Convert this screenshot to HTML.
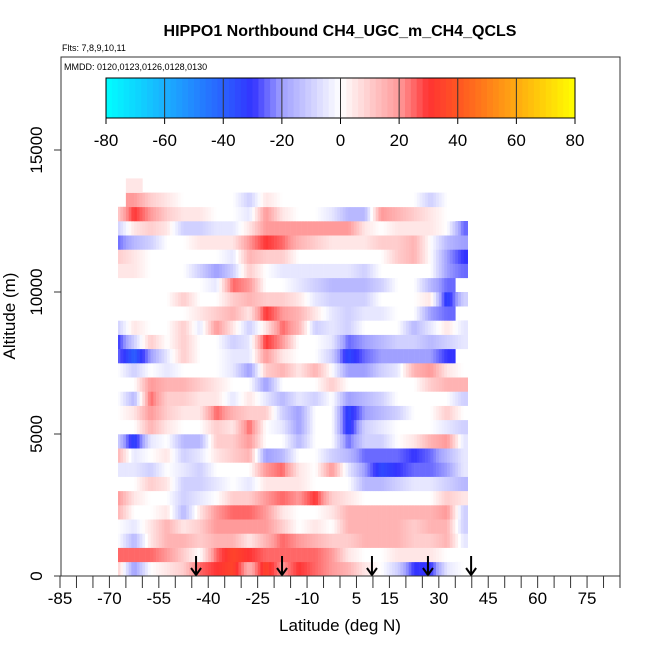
<!DOCTYPE html>
<html><head><meta charset="utf-8"><style>
html,body{margin:0;padding:0;background:#fff;}
svg{display:block;font-family:"Liberation Sans",Arial,sans-serif;}
</style></head><body>
<svg id="chart" width="650" height="650" viewBox="0 0 650 650">
<defs><clipPath id="hclip"><rect x="118" y="57" width="350" height="519"/></clipPath></defs>
<text x="340" y="36" text-anchor="middle" font-size="16" font-weight="bold">HIPPO1 Northbound CH4_UGC_m_CH4_QCLS</text>
<text x="62" y="51" font-size="9">Flts: 7,8,9,10,11</text>
<g id="heat" clip-path="url(#hclip)"></g>
<g id="cbar"></g>
<g id="axes"></g>
<g id="arrows"></g>
<rect x="61" y="57" width="559" height="519" fill="none" stroke="#333" stroke-width="1"/>
<text x="64" y="70" font-size="9">MMDD: 0120,0123,0126,0128,0130</text>
<text x="340" y="631" text-anchor="middle" font-size="17">Latitude (deg N)</text>
<text transform="translate(15,316) rotate(-90)" text-anchor="middle" font-size="17">Altitude (m)</text>
</svg>
<script>
const latStart = [-70,-65,-60,-55,-50,-45,-40,-35,-30,-25,-20,-15,-10,-5,0,5,10,15,20,25,30,35];
const altBins = [0,500,1000,1500,2000,2500,3000,3500,4000,4500,5000,5500,6000,6500,7000,7500,8000,8500,9000,9500,10000,10500,11000,11500,12000,12500,13000,13500];
const values = [
[10,-20,0,5,10,25,30,35,15,35,20,30,25,20,15,5,0,-10,-30,-30,-5,0],
[25,25,25,20,10,0,25,35,30,25,25,25,25,20,5,0,0,5,5,5,0,null],
[0,-15,5,15,15,10,15,15,5,15,25,20,15,10,10,15,15,15,10,10,15,-5],
[0,-5,5,15,5,10,20,20,20,20,10,0,5,0,15,15,15,15,10,15,15,-10],
[15,0,0,5,-15,5,20,25,25,20,5,0,0,5,15,15,15,15,15,15,20,-10],
[20,5,0,0,-10,-5,0,10,10,20,25,20,30,10,5,0,0,0,0,0,10,5],
[0,0,10,5,-10,-10,-5,0,-5,5,5,5,0,0,0,-15,-15,-10,-5,-5,-10,-15],
[-5,-5,-10,0,-5,-10,0,0,0,20,25,5,0,20,-5,-20,-35,-30,-25,-25,-20,-5],
[15,-5,0,5,-10,-5,5,10,15,-20,-15,0,0,-10,-15,-25,-25,-25,-30,-25,-15,-5],
[-10,-35,-5,0,-15,-15,10,10,20,0,0,-15,0,0,-25,-10,-10,0,5,15,20,-5],
[0,0,15,5,0,0,10,5,25,0,-5,-20,0,0,-35,-10,-5,0,0,0,-5,-10],
[0,5,20,10,5,5,25,15,10,10,-10,-20,0,0,-35,-20,-15,-10,0,0,10,0],
[0,-15,25,10,10,5,5,-5,5,-5,-15,-5,-10,0,-20,-15,-10,0,0,0,0,-10],
[0,0,20,15,15,10,5,0,0,-20,0,0,0,10,0,0,0,0,0,10,15,15],
[0,-10,0,-5,0,0,0,-5,-20,10,15,5,15,0,-20,-20,-10,-5,15,20,5,0],
[-25,-40,-20,-5,10,0,0,-5,-5,20,5,0,0,-10,-35,-25,-20,-20,-20,-20,-30,null],
[-30,-10,10,0,10,0,0,-10,-5,30,20,0,0,-5,-25,-20,-15,-10,-10,-15,-10,-5],
[-10,5,0,0,10,-5,20,5,-10,5,25,15,-10,-5,-10,0,0,0,-15,-5,5,-5],
[0,0,0,0,0,5,10,15,5,30,20,15,5,-5,-10,-5,-5,0,0,-20,-25,null],
[0,0,0,0,10,0,0,10,15,10,10,5,-5,-10,-10,-10,0,0,0,5,-35,-10],
[0,0,0,0,0,0,-5,25,20,0,0,-5,-10,-15,-15,-15,-10,0,0,-15,-25,null],
[5,5,0,0,0,-10,-20,-10,10,0,-5,-5,-5,-5,-5,-10,0,0,0,0,-20,-25],
[10,5,0,0,0,0,0,-5,15,10,10,0,0,0,0,0,0,10,15,0,-20,-30],
[-25,-15,-10,0,0,5,5,5,20,30,25,15,10,5,5,5,10,10,15,0,-15,-20],
[-10,5,10,5,-10,-10,-5,-5,5,20,20,20,20,20,20,5,0,5,5,5,0,-25],
[10,30,20,10,5,5,0,0,-5,20,5,0,0,-5,-15,-15,20,15,10,5,0,null],
[null,20,10,5,0,0,0,0,-10,5,0,0,0,0,0,0,0,0,0,-10,0,null],
[null,5,null,null,null,null,null,null,null,null,null,null,null,null,null,null,null,null,null,null,null,null]
];
const cbTicks = [-80,-60,-40,-20,0,20,40,60,80];
const xTickLabels = [-85,-70,-55,-40,-25,-10,5,15,30,45,60,75];
const yTickLabels = [0,5000,10000,15000];
const arrowLats = [-43.7,-17.6,9.7,26.7,39.8];

const NS='http://www.w3.org/2000/svg';
function mk(tag,attrs,parent){const e=document.createElementNS(NS,tag);for(const k in attrs)e.setAttribute(k,attrs[k]);parent.appendChild(e);return e;}
const xS = lat => 60 + (lat+85)/170*560;
const yS = alt => 576 - alt*0.0284;
const stops=[[-80,[0,255,255]],[-60,[26,176,255]],[-40,[42,96,255]],[-30,[51,51,255]],[-20,[160,160,255]],[0,[255,255,255]],[20,[255,154,154]],[30,[255,51,51]],[40,[255,85,34]],[60,[255,170,17]],[80,[255,255,0]]];
function color(v){v=Math.max(-80,Math.min(80,v));for(let i=0;i<stops.length-1;i++){const a=stops[i],b=stops[i+1];if(v<=b[0]){const t=(v-a[0])/(b[0]-a[0]);const c=a[1].map((x,j)=>Math.round(x+(b[1][j]-x)*t));return `rgb(${c[0]},${c[1]},${c[2]})`;}}return 'rgb(255,255,0)';}

const heat=document.getElementById('heat');
const SUB=6;
values.forEach((row,r)=>{row.forEach((v,c)=>{if(v===null)return;
 const y0=yS(altBins[r]+500),y1=yS(altBins[r]);
 const prev=(c>0&&row[c-1]!==null)?row[c-1]:v;
 const next=(c<row.length-1&&row[c+1]!==null)?row[c+1]:v;
 for(let s=0;s<SUB;s++){
  const f=(s+0.5)/SUB;
  let val;
  if(f<0.5){const t=0.5+f;val=prev+(v-prev)*t;}else{const t=f-0.5;val=v+(next-v)*t;}
  const x0=xS(latStart[c]+5*s/SUB),x1=xS(latStart[c]+5*(s+1)/SUB);
  const el=mk('rect',{x:x0.toFixed(2),y:y0.toFixed(2),width:(x1-x0+0.3).toFixed(2),height:(y1-y0+0.3).toFixed(2),fill:color(val)},heat);
  
  
 }
});});

// colorbar
const cb=document.getElementById('cbar');
const cbX=v=>106+(v+80)/160*469;
for(let v=-80;v<80;v+=2){const r=mk('rect',{x:cbX(v).toFixed(2),y:78,width:(cbX(v+2)-cbX(v)+0.4).toFixed(2),height:40,fill:color(v+1)},cb);
 
 }
mk('rect',{x:106,y:78,width:469,height:40,fill:'none',stroke:'#000','stroke-width':1},cb);
cbTicks.forEach(t=>{
 if(t>-80&&t<80){mk('line',{x1:cbX(t),x2:cbX(t),y1:78,y2:118,stroke:'#333','stroke-width':1},cb);}
 mk('line',{x1:cbX(t),x2:cbX(t),y1:118,y2:124,stroke:'#000'},cb);
 const tx=mk('text',{x:cbX(t),y:146,'text-anchor':'middle','font-size':17},cb);tx.textContent=t;
 
 
});

// axes
const ax=document.getElementById('axes');
mk('line',{x1:60,x2:620,y1:576,y2:576,stroke:'#000'},ax);
for(let l=-85;l<=85;l+=5){mk('line',{x1:xS(l),x2:xS(l),y1:576,y2:588,stroke:'#333'},ax);}
xTickLabels.forEach(l=>{const t=mk('text',{x:xS(l),y:604,'text-anchor':'middle','font-size':17},ax);t.textContent=l;
 
 });
yTickLabels.forEach(a=>{mk('line',{x1:54,x2:61,y1:yS(a),y2:yS(a),stroke:'#333'},ax);
 const t=mk('text',{transform:`translate(42,${yS(a)}) rotate(-90)`,'text-anchor':'middle','font-size':17},ax);t.textContent=a;
 
 });

// arrows
const ar=document.getElementById('arrows');
arrowLats.forEach(l=>{const x=xS(l);
 const g=mk('g',{stroke:'#000','stroke-width':2,fill:'none'},ar);
 
 
 mk('line',{x1:x,x2:x,y1:556,y2:575},g);
 mk('polyline',{points:`${x-5},${568} ${x},${575} ${x+5},${568}`},g);
});
</script>
</body></html>
